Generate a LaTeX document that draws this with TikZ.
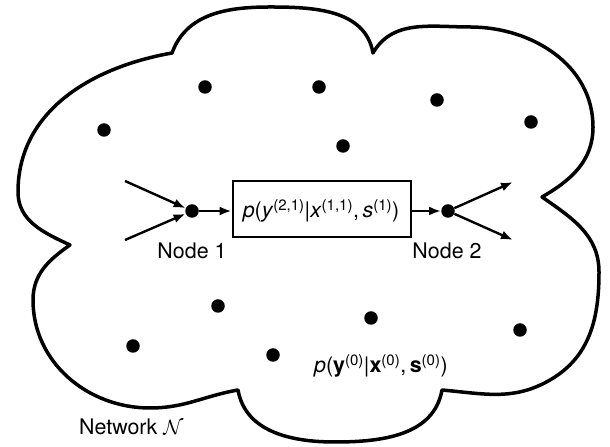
\documentclass[tikz,border=0pt]{standalone}
\usepackage{fontspec}
\setmainfont{TeX Gyre Heros}
\usetikzlibrary{arrows.meta}
\newcommand\supx[1]{\textsuperscript{#1}}
\begin{document}
\begin{tikzpicture}[x=1bp,y=1bp,
  cloudline/.style={line width=3.5bp, line join=round},
  netdot/.style={circle, fill=black, inner sep=0pt, minimum size=13.5bp},
  arr/.style={line width=2.4bp, -{Latex[length=12bp,width=9bp]}},
  txt/.style={font=\fontsize{21.5}{25}\selectfont, inner sep=0pt},
  chan/.style={draw, line width=2.8bp, minimum width=178bp, minimum height=56bp, inner sep=0pt}]
\useasboundingbox (0,0) rectangle (610,447);

% cloud outline of the network
\draw[cloudline] (70,202) to[out=155,in=270] (18,255) to[out=90,in=190] (172,394)
  to[out=70,in=180] (270,440) to[out=0,in=100] (373,394)
  to[out=60,in=180] (470,420) to[out=0,in=90] (593,320) to[out=270,in=30] (542,250)
  to[out=-35,in=90] (599,175) to[out=270,in=30] (550,67) to[out=210,in=-5] (442,57)
  to[out=260,in=0] (335,5) to[out=180,in=280] (238,57)
  to[out=190,in=0] (150,39) to[out=180,in=270] (33,147) to[out=90,in=215] (70,202) -- cycle;

% other nodes of the network
\node[netdot] (d1) at (104,317) {};
\node[netdot] (d2) at (205,360) {};
\node[netdot] (d3) at (319,360) {};
\node[netdot] (d4) at (437,347) {};
\node[netdot] (d5) at (531,325) {};
\node[netdot] (d6) at (343,301) {};
\node[netdot] (d7) at (218,141) {};
\node[netdot] (d8) at (371,129) {};
\node[netdot] (d9) at (520,117) {};
\node[netdot] (d10) at (133,101) {};
\node[netdot] (d11) at (273,92) {};

% the link between node 1 and node 2
\node[netdot] (n1) at (192,236) {};
\node[netdot] (n2) at (448,236) {};
\node[chan] (ch) at (322,238) {};
\node[txt] (chtext) at (321,236) {\textit{p}(\textit{y}\supx{(2,1)}|\textit{x}\supx{(1,1)},\,\textit{s}\supx{(1)})};

\coordinate (in1) at (125,266);
\coordinate (in2) at (125,207);
\coordinate (out1) at (513,265);
\coordinate (out2) at (513,207);

\draw[arr] (in1) -- (n1);
\draw[arr] (in2) -- (n1);
\draw[arr] (n1) -- (n1 -| ch.west);
\draw[arr] (ch.east |- n2) -- (n2);
\draw[arr] (n2) -- (out1);
\draw[arr] (n2) -- (out2);

% labels
\node[txt, anchor=base] (l1) at (192,188) {Node 1};
\node[txt, anchor=base] (l2) at (447,188) {Node 2};
\node[txt, anchor=base west] (pnet) at (314,74) {\textit{p}(\textbf{y}\supx{(0)}|\textbf{x}\supx{(0)},\,\textbf{s}\supx{(0)})};
\node[txt, anchor=base west] (netname) at (79,12) {Network $\mathcal{N}$};
\end{tikzpicture}
\end{document}
